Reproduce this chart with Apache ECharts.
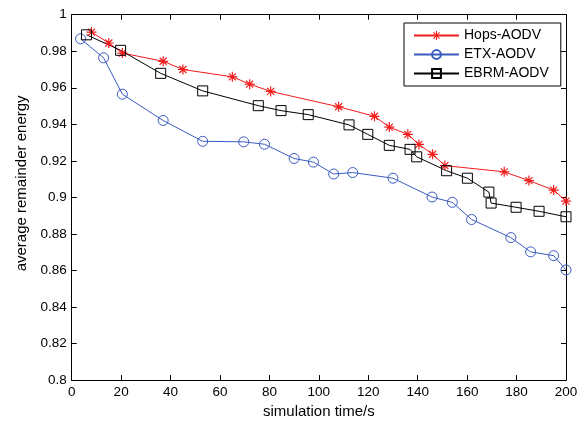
<!DOCTYPE html>
<html>
<head>
<meta charset="utf-8">
<script src="https://cdn.jsdelivr.net/npm/echarts@6/dist/echarts.min.js"></script>
<style>
html,body{margin:0;padding:0;background:#fff;}
#c{width:585px;height:424px;}
</style>
</head>
<body>
<div id="c"></div>
<script>
// ---- data ----
const seriesNames = ['Hops-AODV', 'ETX-AODV', 'EBRM-AODV'];
const hopsT = [8, 15, 20.5, 37, 45, 65, 72, 80.5, 108, 122.5, 128.5, 136, 140.5, 146, 151, 175, 185, 195, 200];
const hopsE = [0.9905, 0.9845, 0.979, 0.9745, 0.970, 0.966, 0.962, 0.958, 0.9496, 0.9444, 0.9385, 0.9345, 0.929, 0.9236, 0.9174, 0.914, 0.9092, 0.904, 0.898];
const etxT = [3.6, 12.9, 20.5, 37, 53, 69.6, 78, 90, 97.8, 106, 113.7, 130, 145.8, 154, 161.8, 177.7, 185.7, 195, 200];
const etxE = [0.9868, 0.9764, 0.9565, 0.9421, 0.9307, 0.9304, 0.9291, 0.9213, 0.9193, 0.9128, 0.9136, 0.9105, 0.9002, 0.8973, 0.8879, 0.878, 0.8702, 0.8681, 0.8603];
const ebrmT = [6, 19.8, 36, 53, 75.5, 84.7, 95.7, 112.2, 119.8, 128.5, 136.9, 139.6, 151.7, 160.1, 168.8, 169.7, 179.8, 189.1, 200];
const ebrmE = [0.989, 0.9805, 0.9679, 0.9583, 0.9502, 0.9475, 0.9453, 0.9397, 0.9345, 0.9285, 0.9263, 0.9222, 0.9146, 0.9105, 0.9029, 0.8969, 0.8946, 0.8924, 0.8894];
const xTicks = {min: 0, max: 200, interval: 20};
const yTicks = {min: 0.8, max: 1, interval: 0.02};

const zip = (a, b) => a.map((v, i) => [v, b[i]]);
const FONT = 'Liberation Sans, Arial, sans-serif';
const RED = '#f21c1c', BLUE = '#3a5bc0', BLACK = '#000';

const starPath = 'path://M0 44L100 44L100 56L0 56Z M44 0L56 0L56 100L44 100Z M10.8 19.2L19.2 10.8L89.2 80.8L80.8 89.2Z M80.8 10.8L89.2 19.2L19.2 89.2L10.8 80.8Z';

const chart = echarts.init(document.getElementById('c'), null, {renderer: 'canvas'});

const axisCommon = {
  axisLine: {show: true, onZero: false, lineStyle: {color: '#000', width: 1}},
  axisTick: {show: true, inside: true, length: 5, lineStyle: {color: '#000', width: 1}},
  splitLine: {show: false}
};

chart.setOption({
  animation: false,
  backgroundColor: '#fff',
  grid: {left: 71.7, right: 19, top: 14.7, bottom: 40, containLabel: false},
  legend: {
    data: seriesNames,
    orient: 'vertical',
    left: 404, top: 23,
    itemWidth: 45, itemHeight: 11, itemGap: 4,
    padding: [5, 12, 5, 9],
    backgroundColor: '#fff',
    borderColor: '#000', borderWidth: 1, borderRadius: 0,
    textStyle: {fontFamily: FONT, fontSize: 14, color: '#000', lineHeight: 15}
  },
  xAxis: [
    Object.assign({
      type: 'value', position: 'bottom',
      min: xTicks.min, max: xTicks.max, interval: xTicks.interval,
      name: 'simulation time/s', nameLocation: 'middle', nameGap: 21,
      nameTextStyle: {fontFamily: FONT, fontSize: 15, color: '#000'},
      axisLabel: {fontFamily: FONT, fontSize: 13.5, color: '#000', margin: 5}
    }, axisCommon),
    Object.assign({
      type: 'value', position: 'top',
      min: xTicks.min, max: xTicks.max, interval: xTicks.interval,
      axisLabel: {show: false}
    }, axisCommon)
  ],
  yAxis: [
    Object.assign({
      type: 'value', position: 'left',
      min: yTicks.min, max: yTicks.max, interval: yTicks.interval,
      name: 'average remainder energy', nameLocation: 'middle', nameGap: 41,
      nameTextStyle: {fontFamily: FONT, fontSize: 15, color: '#000', padding: [0, 0, 0, 28]},
      axisLabel: {fontFamily: FONT, fontSize: 13.5, color: '#000', margin: 5,
        formatter: v => String(+v.toFixed(2))}
    }, axisCommon),
    Object.assign({
      type: 'value', position: 'right',
      min: yTicks.min, max: yTicks.max, interval: yTicks.interval,
      axisLabel: {show: false}
    }, axisCommon)
  ],
  series: [
    {
      name: seriesNames[0], type: 'line', data: zip(hopsT, hopsE),
      symbol: starPath, symbolSize: 10, showAllSymbol: true,
      lineStyle: {color: RED, width: 1},
      itemStyle: {color: RED}
    },
    {
      name: seriesNames[1], type: 'line', data: zip(etxT, etxE),
      symbol: 'circle', symbolSize: 10, showAllSymbol: true,
      lineStyle: {color: BLUE, width: 1},
      itemStyle: {color: 'rgba(255,255,255,0)', borderColor: BLUE, borderWidth: 1}
    },
    {
      name: seriesNames[2], type: 'line', data: zip(ebrmT, ebrmE),
      symbol: 'rect', symbolSize: 10, showAllSymbol: true,
      lineStyle: {color: BLACK, width: 1},
      itemStyle: {color: 'rgba(255,255,255,0)', borderColor: BLACK, borderWidth: 1}
    }
  ]
});
</script>
</body>
</html>
